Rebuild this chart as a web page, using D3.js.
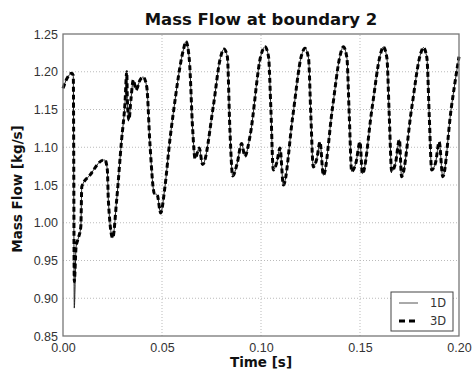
<!DOCTYPE html>
<meta charset="utf-8">
<title>Mass Flow at boundary 2</title>
<style type="text/css">

	body { margin: 0; background: white; }
	svg { font-family: "DejaVu Sans", sans-serif; }
	.tick text { fill: #333; font-size: 12.5px; }
	.domain { display: none; }

</style>
<body>
</body>

<script src="https://d3js.org/d3.v7.min.js"></script>
<script>

// time [s] and mass flow [kg/s]
var time = [0.000, 0.0020, 0.0044, 0.0052, 0.0057, 0.0066, 0.0078, 0.0090, 0.0095, 0.0136,
	0.0204, 0.0212, 0.0224, 0.0229, 0.0251, 0.0271, 0.0296, 0.0313, 0.0322, 0.0325,
	0.0333, 0.0343, 0.0355, 0.0369, 0.0389, 0.0405, 0.0423, 0.0439, 0.0461, 0.0476,
	0.0493, 0.0515, 0.0540, 0.0557, 0.0608, 0.0621, 0.0638, 0.0655, 0.0667, 0.0688,
	0.0705, 0.0759, 0.0793, 0.0813, 0.0830, 0.0843, 0.0857, 0.0880, 0.0902, 0.0919,
	0.0944, 0.1000, 0.1020, 0.1038, 0.1050, 0.1062, 0.1080, 0.1096, 0.1113, 0.1160,
	0.1205, 0.1222, 0.1240, 0.1252, 0.1264, 0.1282, 0.1298, 0.1315, 0.1360, 0.1400,
	0.1416, 0.1434, 0.1446, 0.1458, 0.1480, 0.1500, 0.1512, 0.1560, 0.1602, 0.1618,
	0.1636, 0.1648, 0.1660, 0.1680, 0.1699, 0.1710, 0.1760, 0.1804, 0.1820, 0.1838,
	0.1850, 0.1862, 0.1882, 0.1900, 0.1918, 0.1960, 0.2000];

var flow3D = [1.178, 1.191, 1.198, 1.195, 0.922, 0.968, 0.980, 0.995, 1.048, 1.063,
	1.083, 1.083, 1.070, 1.030, 0.980, 1.030, 1.110, 1.158, 1.200, 1.163,
	1.136, 1.163, 1.189, 1.176, 1.189, 1.193, 1.180, 1.105, 1.039, 1.037,
	1.013, 1.048, 1.110, 1.145, 1.229, 1.240, 1.216, 1.123, 1.085, 1.099,
	1.077, 1.154, 1.216, 1.230, 1.220, 1.123, 1.062, 1.079, 1.105, 1.088,
	1.114, 1.222, 1.233, 1.220, 1.150, 1.070, 1.080, 1.099, 1.050, 1.140,
	1.222, 1.231, 1.218, 1.140, 1.074, 1.085, 1.107, 1.063, 1.150, 1.222,
	1.233, 1.218, 1.140, 1.068, 1.080, 1.107, 1.065, 1.150, 1.222, 1.233,
	1.218, 1.140, 1.068, 1.080, 1.110, 1.061, 1.150, 1.222, 1.232, 1.218,
	1.140, 1.070, 1.080, 1.107, 1.061, 1.150, 1.220];

// 1D follows 3D except for the deeper dip right after the start
var flow1D = flow3D.slice();
flow1D[4] = 0.887;

var xTicks = [0.00, 0.05, 0.10, 0.15, 0.20];
var yTicks = [0.85, 0.90, 0.95, 1.00, 1.05, 1.10, 1.15, 1.20, 1.25];

var width = 473, height = 371;
var margin = {top: 34, right: 14, bottom: 35, left: 63};

var svg = d3.select("body").append("svg")
		.attr("width", width)
		.attr("height", height);

var x = d3.scaleLinear()
		.domain([0, 0.2])
		.range([margin.left, width - margin.right]);

var y = d3.scaleLinear()
		.domain([0.85, 1.25])
		.range([height - margin.bottom, margin.top]);

// dotted grid
svg.append("g").selectAll("line")
		.data(xTicks.slice(1, -1))
		.enter().append("line")
		.attr("x1", function(d) { return x(d); })
		.attr("x2", function(d) { return x(d); })
		.attr("y1", y(0.85))
		.attr("y2", y(1.25))
		.attr("stroke", "#bbb")
		.attr("stroke-dasharray", "1,2");

svg.append("g").selectAll("line")
		.data(yTicks.slice(1, -1))
		.enter().append("line")
		.attr("x1", x(0))
		.attr("x2", x(0.2))
		.attr("y1", function(d) { return y(d); })
		.attr("y2", function(d) { return y(d); })
		.attr("stroke", "#bbb")
		.attr("stroke-dasharray", "1,2");

// monotone curve keeps the spikes but rounds the peaks a little
var line = d3.line()
		.curve(d3.curveMonotoneX)
		.x(function(d) { return x(d[0]); })
		.y(function(d) { return y(d[1]); });

var data1D = time.map(function(t, i) { return [t, flow1D[i]]; });
var data3D = time.map(function(t, i) { return [t, flow3D[i]]; });

svg.append("path")
		.datum(data1D)
		.attr("d", line)
		.attr("fill", "none")
		.attr("stroke", "#222")
		.attr("stroke-width", 1);

svg.append("path")
		.datum(data3D)
		.attr("d", line)
		.attr("fill", "none")
		.attr("stroke", "black")
		.attr("stroke-width", 3)
		.attr("stroke-dasharray", "5,3");

// axes (labels only, frame drawn separately)
svg.append("g")
		.attr("transform", "translate(0," + y(0.85) + ")")
		.call(d3.axisBottom(x).tickValues(xTicks).tickSize(0).tickPadding(7).tickFormat(d3.format(".2f")));

svg.append("g")
		.attr("transform", "translate(" + x(0) + ",0)")
		.call(d3.axisLeft(y).tickValues(yTicks).tickSize(0).tickPadding(5).tickFormat(d3.format(".2f")));

svg.append("rect")
		.attr("x", x(0))
		.attr("y", y(1.25))
		.attr("width", x(0.2) - x(0))
		.attr("height", y(0.85) - y(1.25))
		.attr("fill", "none")
		.attr("stroke", "#777")
		.attr("stroke-width", 1.3);

// title and axis labels
svg.append("text")
		.attr("x", (x(0) + x(0.2)) / 2)
		.attr("y", 25)
		.attr("text-anchor", "middle")
		.style("font-size", "16.5px")
		.style("font-weight", "bold")
		.style("fill", "#111")
		.text("Mass Flow at boundary 2");

svg.append("text")
		.attr("x", (x(0) + x(0.2)) / 2)
		.attr("y", 367)
		.attr("text-anchor", "middle")
		.style("font-size", "13.5px")
		.style("font-weight", "bold")
		.style("fill", "#111")
		.text("Time [s]");

svg.append("text")
		.attr("transform", "translate(22," + ((y(0.85) + y(1.25)) / 2 + 4) + ") rotate(-90)")
		.attr("text-anchor", "middle")
		.style("font-size", "13.5px")
		.style("font-weight", "bold")
		.style("fill", "#111")
		.text("Mass Flow [kg/s]");

// legend
var legend = svg.append("g").attr("transform", "translate(391,292)");

legend.append("rect")
		.attr("width", 62)
		.attr("height", 39)
		.attr("fill", "white")
		.attr("stroke", "#444")
		.attr("stroke-width", 1);

legend.append("line")
		.attr("x1", 8).attr("x2", 27).attr("y1", 11).attr("y2", 11)
		.attr("stroke", "#555").attr("stroke-width", 1);

legend.append("line")
		.attr("x1", 8).attr("x2", 27).attr("y1", 29).attr("y2", 29)
		.attr("stroke", "black").attr("stroke-width", 3).attr("stroke-dasharray", "6,4");

legend.append("text").attr("x", 39).attr("y", 15).text("1D")
		.style("font-size", "11.5px").style("fill", "#333");
legend.append("text").attr("x", 39).attr("y", 33).text("3D")
		.style("font-size", "11.5px").style("fill", "#333");

</script>
</body>
